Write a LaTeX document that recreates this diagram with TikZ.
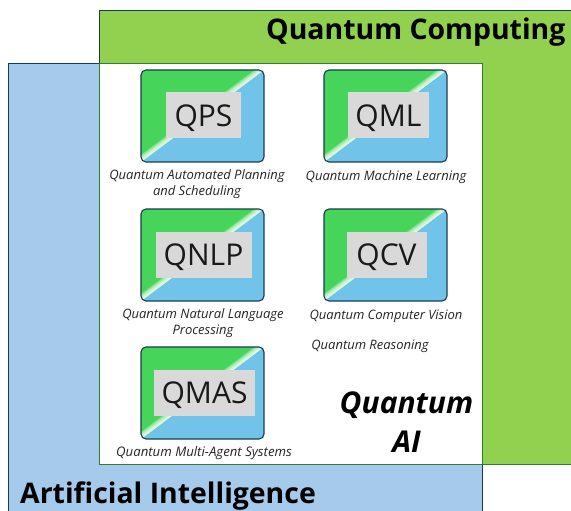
\documentclass[tikz,border=0pt]{standalone}
\usepackage{fontspec}
\setmainfont{Open Sans}
\definecolor{qgreen}{HTML}{92D050}
\definecolor{aiblue}{HTML}{A6CAEC}
\definecolor{cardgreen}{HTML}{47D45A}
\definecolor{cardblue}{HTML}{71C3EA}
\definecolor{darkedge}{HTML}{153D4F}
\definecolor{innerline}{HTML}{2E7D32}
\definecolor{greybox}{HTML}{D9D9D9}
\tikzset{
  x=1pt,y=-1pt,
  capt/.style={font=\itshape\fontsize{13}{16}\selectfont,align=center,text=black!85,inner sep=0pt},
  abbr/.style={fill=greybox,font=\fontsize{30}{30}\selectfont,text=black!90,inner sep=0pt,minimum height=46pt},
  titletext/.style={font=\bfseries\fontsize{28.4}{30}\selectfont,inner sep=0pt,anchor=base west},
}
\newcommand{\card}[6]{% name, left x, top y, label, grey width, grey centre x offset
  \begin{scope}
    \clip[rounded corners=5pt] (#2,#3) rectangle ++(123,92);
    \fill[cardblue] (#2,#3) rectangle ++(123,92);
    \fill[cardgreen] (#2,#3) -- (#2+123,#3) -- (#2,#3+92) -- cycle;
    \foreach \k in {1.2,2.4,3.6,4.8,6,7.2}{
      \fill[white,opacity=.27] (#2,#3+92) -- (#2+123,#3) -- (#2+123,#3-\k) -- (#2,#3+92-\k) -- cycle;
    }
  \end{scope}
  \draw[darkedge,line width=1.1pt,rounded corners=5pt] (#2,#3) rectangle ++(123,92);
  \node[abbr,minimum width=#5] (#1) at (#2+61.5+#6,#3+45.5) {\raisebox{-10.5pt}[0pt][0pt]{#4}};
}
\begin{document}
\begin{tikzpicture}
\useasboundingbox (0,0) rectangle (571,511);
\begin{scope}
\clip (0,0) rectangle (571,511);
\fill[qgreen] (99,11) rectangle (580,464);
\draw[darkedge,line width=1pt] (580,11) -- (99,11) -- (99,64);
\fill[aiblue] (8,64) rectangle (482,520);
\draw[darkedge,line width=1pt] (8,520) -- (8,64) -- (99,64);
\draw[darkedge,line width=1pt] (482,464) -- (482,520);
\fill[white] (99,64) rectangle (482,464);
\draw[innerline,line width=1pt] (99,64) rectangle (482,464);
\draw[innerline,line width=1pt] (482,464) -- (580,464);
\end{scope}
\card{qps}{141}{70}{QPS}{75pt}{1}
\card{qml}{324}{70}{QML}{81pt}{3}
\card{qnlp}{141}{209}{QNLP}{96pt}{1}
\card{qcv}{324}{209}{QCV}{80pt}{1}
\card{qmas}{141}{347}{QMAS}{101pt}{2}
\node[capt] (c1) at (197,184) {Quantum Automated Planning\\and Scheduling};
\node[capt] (c2) at (386,177) {Quantum Machine Learning};
\node[capt] (c3) at (203,323.5) {Quantum Natural Language\\Processing};
\node[capt] (c4) at (386,316) {Quantum Computer Vision};
\node[capt] (c5) at (370,346.5) {Quantum Reasoning};
\node[capt,font=\itshape\fontsize{13.2}{16}\selectfont] (c6) at (204,453.5) {Quantum Multi-Agent Systems};
\node[font=\bfseries\itshape\fontsize{30}{39}\selectfont,align=center,inner sep=0pt] (qai) at (406.5,422) {Quantum\\AI};
\node[titletext] (qc) at (266,40) {Quantum Computing};
\node[titletext] (ai) at (20,503.5) {Artificial Intelligence};
\end{tikzpicture}
\end{document}
